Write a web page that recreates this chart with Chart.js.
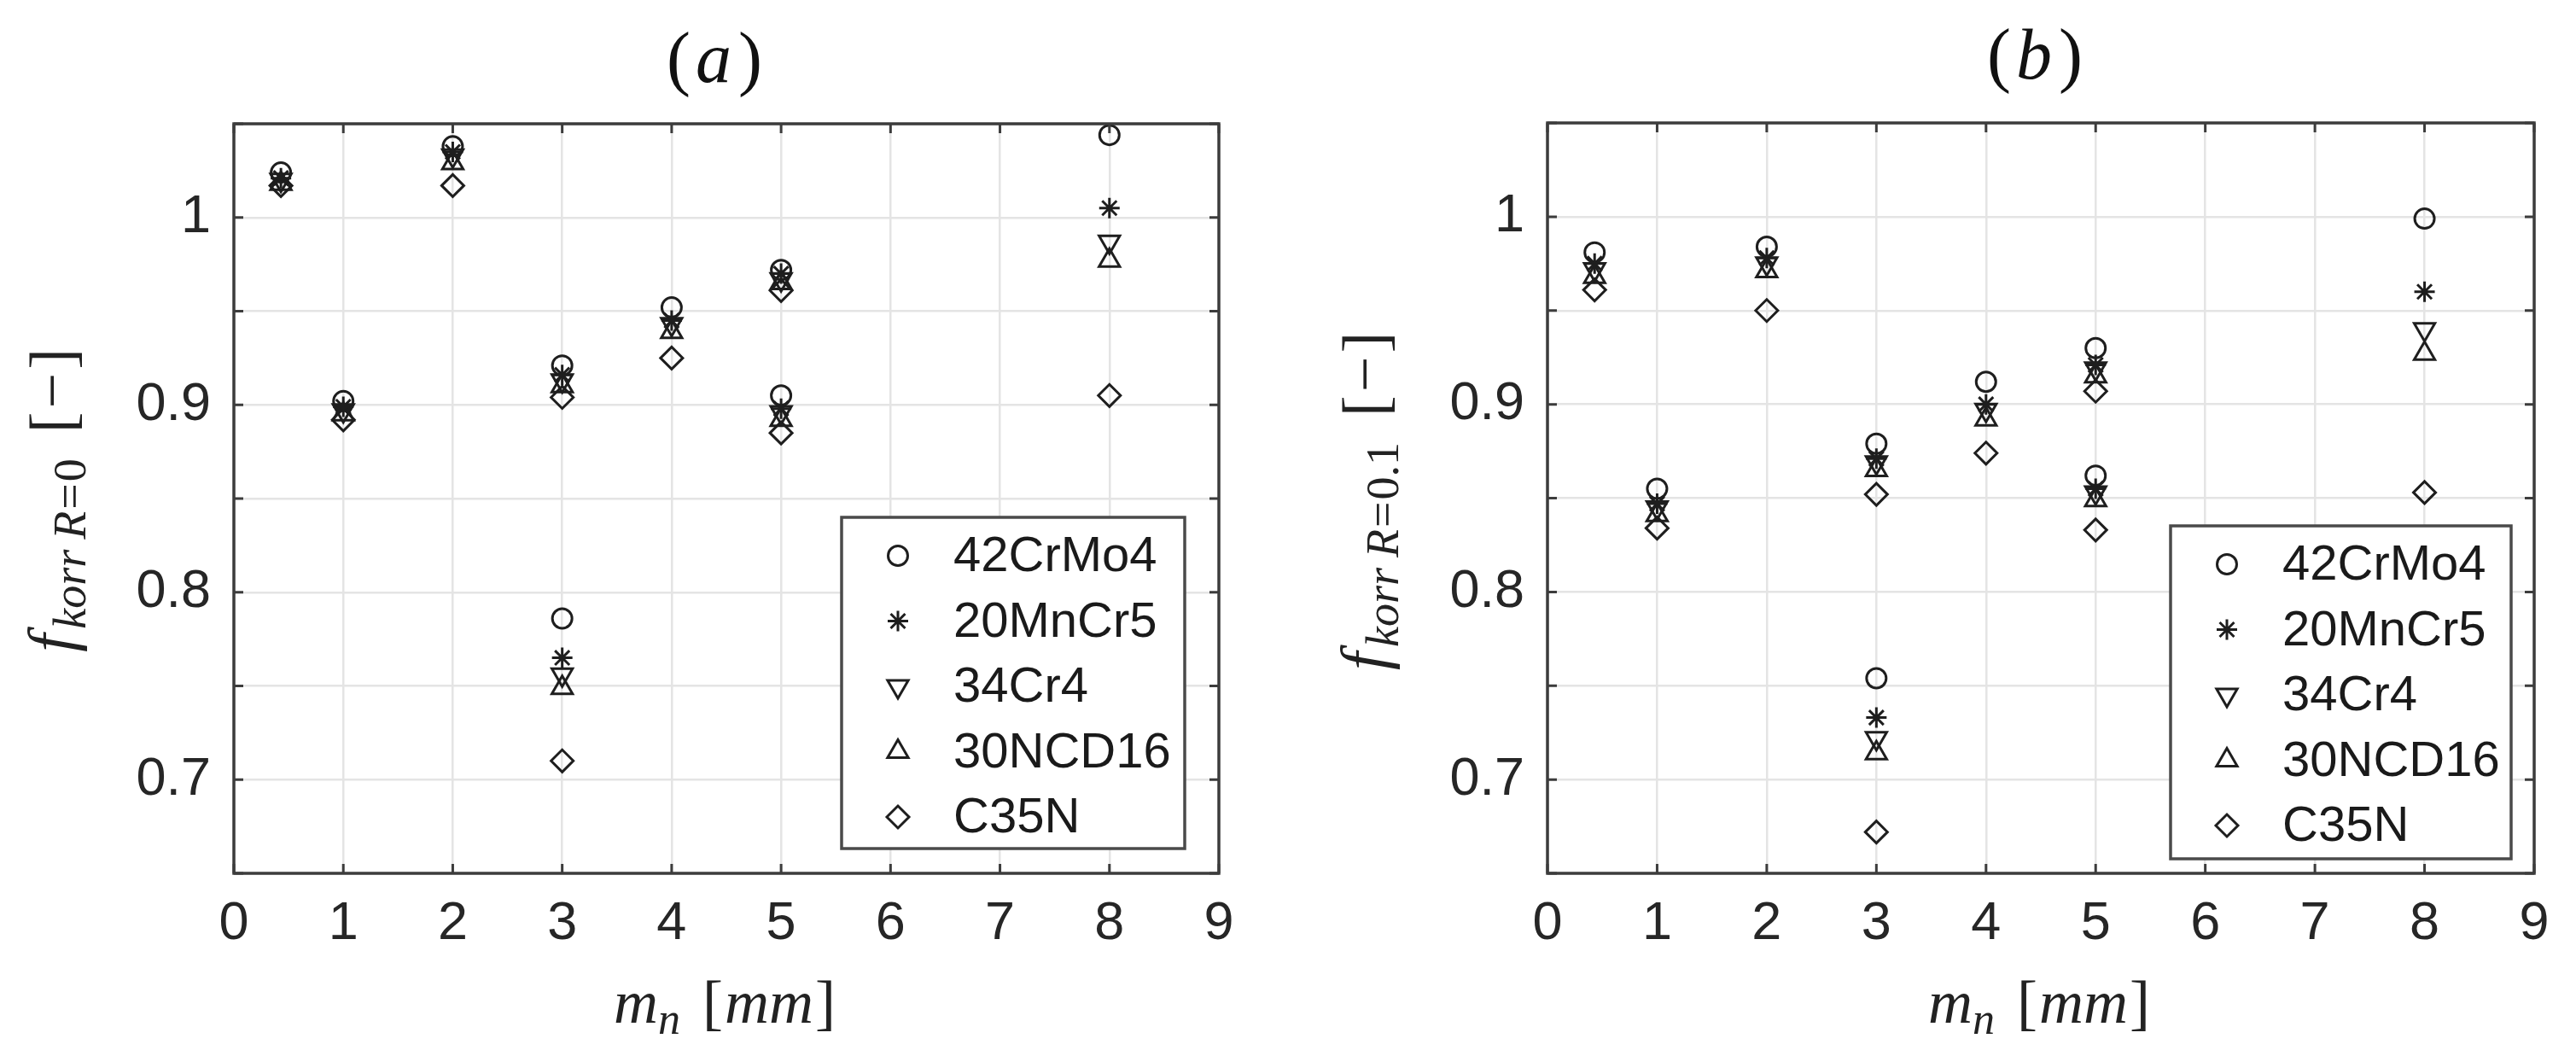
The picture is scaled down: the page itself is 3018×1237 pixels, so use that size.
<!DOCTYPE html>
<html><head><meta charset="utf-8">
<script src="https://cdn.jsdelivr.net/npm/chart.js@4.4.0/dist/chart.umd.min.js"></script>
<style>
html,body{margin:0;padding:0;background:#fff;}
#wrap{position:relative;width:3018px;height:1237px;background:#fff;}
.c{position:absolute;top:0;height:1237px;}
</style></head><body>
<div id="wrap">
<div class="c" style="left:0;width:1500px"><canvas id="ca" width="1500" height="1237"></canvas></div>
<div class="c" style="left:1500px;width:1518px"><canvas id="cb" width="1518" height="1237"></canvas></div>
</div>
<script>
// ---- data ----
const materials = ['42CrMo4', '20MnCr5', '34Cr4', '30NCD16', 'C35N'];
const mn = [0.43, 1, 2, 3, 3, 4, 5, 5, 8];           // m_n [mm]
const xTicks = [0, 1, 2, 3, 4, 5, 6, 7, 8, 9];
const yTickLabels = [0.7, 0.8, 0.9, 1];

// (a) f_korr R=0
const a_42CrMo4 = [1.024, 0.902, 1.038, 0.921, 0.786, 0.952, 0.972, 0.905, 1.044];
const a_20MnCr5 = [1.021, 0.899, 1.035, 0.916, 0.765, 0.945, 0.970, 0.898, 1.005];
const a_34Cr4   = [1.020, 0.897, 1.033, 0.913, 0.756, 0.943, 0.967, 0.896, 0.987];
const a_30NCD16 = [1.018, 0.895, 1.029, 0.910, 0.749, 0.939, 0.965, 0.892, 0.977];
const a_C35N    = [1.017, 0.892, 1.017, 0.904, 0.710, 0.925, 0.961, 0.885, 0.905];

// (b) f_korr R=0.1
const b_42CrMo4 = [0.981, 0.855, 0.984, 0.879, 0.754, 0.912, 0.930, 0.862, 0.999];
const b_20MnCr5 = [0.975, 0.847, 0.978, 0.871, 0.733, 0.900, 0.921, 0.855, 0.960];
const b_34Cr4   = [0.972, 0.845, 0.975, 0.869, 0.722, 0.897, 0.919, 0.853, 0.940];
const b_30NCD16 = [0.968, 0.841, 0.971, 0.865, 0.714, 0.892, 0.915, 0.849, 0.927];
const b_C35N    = [0.961, 0.834, 0.950, 0.852, 0.672, 0.874, 0.907, 0.833, 0.853];

// ---- styles ----
const markerStyles = [
  {style: 'circle',   rot: 0,   r: 11.5},
  {style: 'star',     rot: 0,   r: 12},
  {style: 'triangle', rot: 180, r: 14},
  {style: 'triangle', rot: 0,   r: 14},
  {style: 'rectRot',  rot: 0,   r: 13}
];
const INK = '#1e1e1e';
const TXT = '#262626';
const GRID = '#e4e4e4';
const FRAME = '#3c3c3c';

function marker(ctx, s, x, y) {
  const r = s.r;
  ctx.beginPath();
  if (s.style === 'circle') {
    ctx.arc(x, y, r, 0, Math.PI * 2);
  } else if (s.style === 'triangle') {
    let a = s.rot * Math.PI / 180;
    for (let k = 0; k < 3; k++) {
      const px = x + Math.sin(a) * r, py = y - Math.cos(a) * r;
      if (k === 0) ctx.moveTo(px, py); else ctx.lineTo(px, py);
      a += 2 * Math.PI / 3;
    }
    ctx.closePath();
  } else if (s.style === 'rectRot') {
    ctx.moveTo(x - r, y); ctx.lineTo(x, y - r); ctx.lineTo(x + r, y); ctx.lineTo(x, y + r);
    ctx.closePath();
  } else if (s.style === 'star') {
    for (let k = 0; k < 4; k++) {
      const a = k * Math.PI / 4;
      ctx.moveTo(x - Math.cos(a) * r, y - Math.sin(a) * r);
      ctx.lineTo(x + Math.cos(a) * r, y + Math.sin(a) * r);
    }
  }
  ctx.stroke();
}

function rich(ctx, segs) {
  let w = 0;
  segs.forEach(s => { ctx.font = s.font; s.w = ctx.measureText(s.t).width + (s.gap || 0); w += s.w; });
  return w;
}
function drawRich(ctx, segs, cx, baseY) {
  const w = rich(ctx, segs);
  let x = cx - w / 2;
  ctx.textBaseline = 'alphabetic';
  ctx.textAlign = 'left';
  segs.forEach(s => { ctx.font = s.font; ctx.fillText(s.t, x + (s.pre || 0), baseY + (s.dy || 0)); x += s.w; });
}

const SERIF = '"Liberation Serif", "Times New Roman", serif';
const SANS = '"Liberation Sans", Arial, sans-serif';

const decoPlugin = {
  id: 'deco',
  afterDraw(chart) {
    const o = chart.options.plugins.deco;
    const ctx = chart.ctx;
    const ca = chart.chartArea;
    const xs = chart.scales.x, ys = chart.scales.y;
    ctx.save();
    // inward tick marks on all four sides
    ctx.strokeStyle = FRAME; ctx.lineWidth = 3;
    const TL = 11;
    ctx.beginPath();
    xs.ticks.forEach(t => {
      const p = xs.getPixelForValue(t.value);
      ctx.moveTo(p, ca.bottom); ctx.lineTo(p, ca.bottom - TL);
      ctx.moveTo(p, ca.top); ctx.lineTo(p, ca.top + TL);
    });
    ys.ticks.forEach(t => {
      const p = ys.getPixelForValue(t.value);
      ctx.moveTo(ca.left, p); ctx.lineTo(ca.left + TL, p);
      ctx.moveTo(ca.right, p); ctx.lineTo(ca.right - TL, p);
    });
    ctx.stroke();
    // frame
    ctx.lineWidth = 3.5;
    ctx.strokeRect(ca.left, ca.top, ca.right - ca.left, ca.bottom - ca.top);

    // legend
    const L = o.legend;
    const bx = ca.right - L.right - L.w, by = ca.bottom - L.bottom - L.h;
    ctx.fillStyle = '#fff';
    ctx.fillRect(bx, by, L.w, L.h);
    ctx.strokeStyle = '#4a4a4a'; ctx.lineWidth = 3.5;
    ctx.strokeRect(bx, by, L.w, L.h);
    ctx.font = '58px ' + SANS;
    ctx.textBaseline = 'middle'; ctx.textAlign = 'left';
    chart.data.datasets.forEach((ds, i) => {
      const yy = by + 45 + i * 76.5;
      ctx.strokeStyle = INK; ctx.lineWidth = 3;
      marker(ctx, markerStyles[i], bx + 66, yy);
      ctx.fillStyle = '#1a1a1a';
      ctx.fillText(ds.label, bx + 131, yy + 2);
    });

    // title "(a)"
    ctx.fillStyle = '#111';
    drawRich(ctx, [
      {t: '(', font: '84px ' + SERIF, gap: 6},
      {t: o.title, font: 'italic 84px ' + SERIF, gap: 8},
      {t: ')', font: '84px ' + SERIF}
    ], o.titleX, o.titleY);

    // x axis title  m_n [mm]
    ctx.fillStyle = '#222';
    drawRich(ctx, [
      {t: 'm', font: 'italic 72px ' + SERIF},
      {t: 'n', font: 'italic 52px ' + SERIF, dy: 13, gap: 26},
      {t: '[', font: '72px ' + SERIF, gap: 2},
      {t: 'mm', font: 'italic 72px ' + SERIF, gap: 2},
      {t: ']', font: '72px ' + SERIF}
    ], o.xTitleX, o.xTitleY);

    // y axis title  f_korr R=... [−]
    ctx.save();
    ctx.translate(o.yTitleX, o.yTitleY);
    ctx.rotate(-Math.PI / 2);
    const sub = [
      {t: 'f', font: 'italic 76px ' + SERIF, gap: 6},
      {t: 'korr', font: 'italic 54px ' + SERIF, dy: 14, gap: 12},
      {t: 'R', font: 'italic 54px ' + SERIF, dy: 14, gap: 2},
      {t: '=', font: '54px ' + SERIF, dy: 14, gap: 2},
      {t: o.rVal, font: '54px ' + SERIF, dy: 14, gap: 30},
      {t: '[', font: '74px ' + SERIF, gap: 4},
      {t: '\u2212', font: '74px ' + SERIF, gap: 4},
      {t: ']', font: '74px ' + SERIF}
    ];
    drawRich(ctx, sub, 0, 0);
    ctx.restore();
    ctx.restore();
  }
};

function makeChart(id, series, deco, pad) {
  const datasets = materials.map((m, i) => ({
    label: m,
    data: mn.map((x, j) => ({x: x, y: series[i][j]})),
    pointStyle: markerStyles[i].style,
    rotation: markerStyles[i].rot,
    pointRadius: markerStyles[i].r,
    pointHoverRadius: markerStyles[i].r,
    borderColor: INK,
    backgroundColor: 'rgba(0,0,0,0)',
    pointBorderWidth: 3,
    borderWidth: 3,
    showLine: false
  }));
  return new Chart(document.getElementById(id), {
    type: 'scatter',
    data: {datasets},
    options: {
      responsive: false,
      animation: false,
      devicePixelRatio: 1,
      layout: {padding: pad},
      plugins: {
        legend: {display: false},
        tooltip: {enabled: false},
        title: {display: false},
        deco: deco
      },
      scales: {
        x: {
          type: 'linear', min: 0, max: 9,
          afterBuildTicks: s => { s.ticks = xTicks.map(v => ({value: v})); },
          afterFit: s => { s.height = 100; },
          ticks: {stepSize: 1, autoSkip: false, maxRotation: 0, padding: 22, color: TXT,
                  font: {family: 'Liberation Sans', size: 63}},
          grid: {color: GRID, lineWidth: 2.5, drawTicks: false},
          border: {display: false}
        },
        y: {
          type: 'linear', min: 0.65, max: 1.05,
          afterFit: s => { s.width = 150; },
          ticks: {stepSize: 0.05, autoSkip: false, padding: 27, color: TXT,
                  font: {family: 'Liberation Sans', size: 63},
                  callback: v => {
                    const hit = yTickLabels.find(t => Math.abs(t - v) < 1e-6);
                    return hit === undefined ? '' : String(hit);
                  }},
          grid: {color: GRID, lineWidth: 2.5, drawTicks: false},
          border: {display: false}
        }
      }
    },
    plugins: [decoPlugin]
  });
}

makeChart('ca', [a_42CrMo4, a_20MnCr5, a_34Cr4, a_30NCD16, a_C35N],
  {title: 'a', titleX: 837, titleY: 96, xTitleX: 849, xTitleY: 1198, yTitleX: 86, yTitleY: 586, rVal: '0',
   legend: {right: 40, bottom: 29, w: 402, h: 388}},
  {left: 124, right: 72, top: 145, bottom: 114});

makeChart('cb', [b_42CrMo4, b_20MnCr5, b_34Cr4, b_30NCD16, b_C35N],
  {title: 'b', titleX: 884, titleY: 92, xTitleX: 889, xTitleY: 1198, yTitleX: 124, yTitleY: 587, rVal: '0.1',
   legend: {right: 27, bottom: 17, w: 399, h: 390}},
  {left: 163, right: 49, top: 144, bottom: 114});
</script>
</body></html>
